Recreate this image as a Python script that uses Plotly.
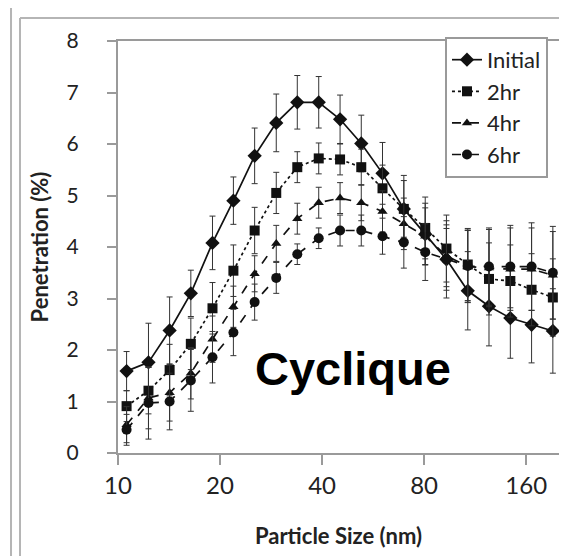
import plotly.graph_objects as go

# Particle size bins (nm)
sizes = [10.6, 12.3, 14.2, 16.4, 19.0, 21.9, 25.3, 29.3, 33.8, 39.1, 45.2,
         52.2, 60.3, 69.7, 80.6, 93.1, 107.6, 124.3, 143.7, 166.0, 191.8]

initial = [1.59, 1.76, 2.38, 3.10, 4.08, 4.90, 5.77, 6.41, 6.81, 6.81, 6.48,
           6.01, 5.43, 4.74, 4.25, 3.76, 3.15, 2.85, 2.62, 2.49, 2.37]
initial_err = [0.38, 0.76, 0.65, 0.45, 0.52, 0.46, 0.54, 0.56, 0.52, 0.50, 0.47,
               0.55, 0.60, 0.65, 0.60, 0.75, 0.76, 0.77, 0.78, 0.74, 0.82]

hr2 = [0.91, 1.21, 1.61, 2.12, 2.81, 3.54, 4.32, 5.05, 5.55, 5.72, 5.70,
       5.55, 5.14, 4.74, 4.37, 3.97, 3.66, 3.38, 3.34, 3.17, 3.02]
hr2_err = [0.30, 0.45, 0.50, 0.50, 0.50, 0.50, 0.45, 0.40, 0.30, 0.30, 0.30,
           0.35, 0.45, 0.55, 0.60, 0.65, 0.70, 0.70, 0.70, 0.70, 0.75]

hr4 = [0.55, 1.07, 1.17, 1.55, 2.21, 2.84, 3.48, 4.07, 4.55, 4.86, 4.95,
       4.86, 4.69, 4.45, 4.21, 3.83, 3.62, 3.59, 3.57, 3.57, 3.45]
hr4_err = [0.35, 0.60, 0.55, 0.50, 0.45, 0.40, 0.35, 0.35, 0.30, 0.30, 0.30,
           0.35, 0.40, 0.50, 0.55, 0.60, 0.70, 0.75, 0.80, 0.80, 0.85]

hr6 = [0.45, 0.97, 1.00, 1.41, 1.86, 2.34, 2.93, 3.40, 3.86, 4.17, 4.32,
       4.32, 4.21, 4.09, 3.90, 3.76, 3.63, 3.62, 3.62, 3.62, 3.50]
hr6_err = [0.30, 0.70, 0.55, 0.60, 0.50, 0.45, 0.35, 0.30, 0.20, 0.20, 0.30,
           0.30, 0.35, 0.50, 0.55, 0.60, 0.70, 0.75, 0.80, 0.85, 0.90]

x_ticks = [10, 20, 40, 80, 160]

series = [
    ("Initial", initial, initial_err, "solid", "diamond", 11),
    ("2hr", hr2, hr2_err, "dot", "square", 10),
    ("4hr", hr4, hr4_err, "dash", "triangle-up", 9),
    ("6hr", hr6, hr6_err, "dash", "circle", 10),
]

fig = go.Figure()
for name, vals, errs, dash, sym, msize in series:
    fig.add_trace(go.Scatter(
        x=sizes, y=vals, name=name, mode="lines+markers",
        line=dict(color="#111111", width=1.7, dash=dash),
        marker=dict(symbol=sym, size=msize, color="#111111"),
        error_y=dict(type="data", array=errs, visible=True,
                     color="#333333", thickness=1, width=3),
    ))

axis_col = "#9a9a9a"
fig.update_layout(
    width=567, height=556,
    margin=dict(l=110, r=16, t=33, b=111),
    paper_bgcolor="white", plot_bgcolor="white",
    font=dict(family="Lato", color="#222222"),
    showlegend=True,
    legend=dict(
        x=0.975, y=1.01, xanchor="right", yanchor="top",
        bgcolor="white", bordercolor=axis_col, borderwidth=2,
        font=dict(family="Lato", size=22, color="#222222"),
        tracegroupgap=0, itemwidth=30,
    ),
    xaxis=dict(
        type="log", range=[1, 2.301],
        tickmode="array", tickvals=x_ticks, ticktext=[str(v) for v in x_ticks],
        showgrid=False, zeroline=False,
        showline=True, linecolor=axis_col, linewidth=2, mirror=True,
        ticks="outside", ticklen=10, tickcolor=axis_col, tickwidth=2,
        tickfont=dict(family="Lato", size=24, color="#222222"),
        title=dict(text="<b>Particle Size (nm)</b>", standoff=31,
                   font=dict(family="Lato", size=22, color="#222222")),
    ),
    yaxis=dict(
        range=[0, 8], dtick=1,
        showgrid=False, zeroline=False,
        showline=True, linecolor=axis_col, linewidth=2, mirror=True,
        ticks="outside", ticklen=9, tickcolor=axis_col, tickwidth=2,
        tickfont=dict(family="Lato", size=21, color="#222222"),
        ticklabelstandoff=24,
        title=dict(text="<b>Penetration (%)</b>", standoff=12,
                   font=dict(family="Lato", size=22, color="#222222")),
    ),
    annotations=[dict(
        text="<b>Cyclique</b>", xref="paper", yref="paper",
        x=0.532, y=0.205, xanchor="center", yanchor="middle",
        showarrow=False,
        font=dict(family="Liberation Sans", size=47, color="black"),
    )],
    shapes=[
        dict(type="line", xref="paper", yref="paper", x0=-0.2426, x1=-0.2426,
             y0=-0.27, y1=1.08, line=dict(color="#b5b5b5", width=2)),
        dict(type="line", xref="paper", yref="paper", x0=-0.2222, x1=-0.2222,
             y0=-0.27, y1=1.0558, line=dict(color="#b5b5b5", width=2)),
        dict(type="line", xref="paper", yref="paper", x0=-0.2222, x1=1.04,
             y0=1.0558, y1=1.0558, line=dict(color="#b5b5b5", width=2)),
    ],
)

fig.write_html("out.html")
